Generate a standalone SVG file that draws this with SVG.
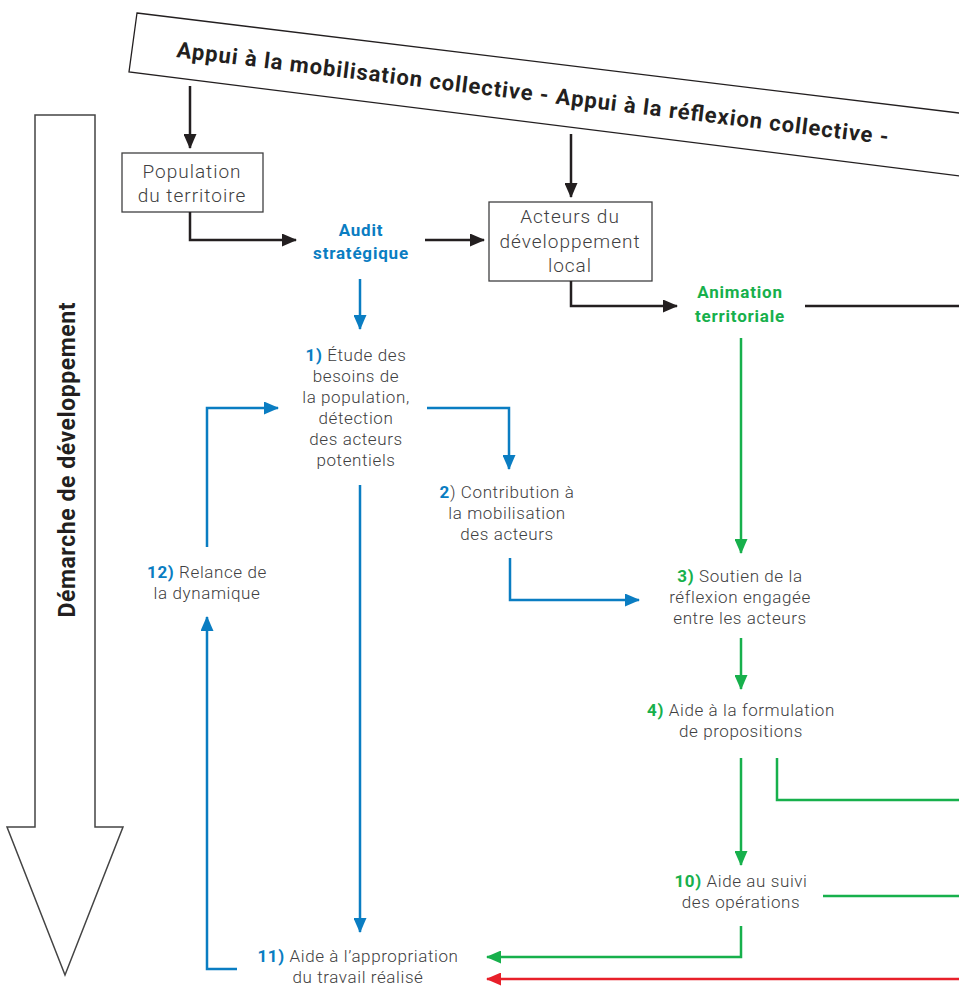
<svg xmlns="http://www.w3.org/2000/svg" width="959" height="986" viewBox="0 0 959 986">
<style>
.t{font-family:Roboto,"Liberation Sans",sans-serif;font-weight:300;fill:#404041;font-size:17px;letter-spacing:0.6px;text-anchor:middle}
.big{font-size:19px;letter-spacing:1px}
.hb{font-family:Roboto,"Liberation Sans",sans-serif;font-weight:700;font-size:17px;letter-spacing:0.8px;text-anchor:middle}
.nb{font-weight:700}
.bl{fill:#0a7dc2}
.gr{fill:#17b04c}
.box{fill:#fff;stroke:#404041;stroke-width:1.3}
.k{fill:none;stroke:#231f20;stroke-width:2.5}
.b{fill:none;stroke:#0a7dc2;stroke-width:2.5}
.g{fill:none;stroke:#17b04c;stroke-width:2.5}
.r{fill:none;stroke:#e8202a;stroke-width:2.5}
</style>
<defs>
<marker id="ak" viewBox="0 0 15 13" refX="14" refY="6.5" markerWidth="15" markerHeight="13" markerUnits="userSpaceOnUse" orient="auto"><path d="M0,0 L15,6.5 L0,13 z" fill="#231f20"/></marker>
<marker id="ab" viewBox="0 0 15 13" refX="14" refY="6.5" markerWidth="15" markerHeight="13" markerUnits="userSpaceOnUse" orient="auto"><path d="M0,0 L15,6.5 L0,13 z" fill="#0a7dc2"/></marker>
<marker id="ag" viewBox="0 0 15 13" refX="14" refY="6.5" markerWidth="15" markerHeight="13" markerUnits="userSpaceOnUse" orient="auto"><path d="M0,0 L15,6.5 L0,13 z" fill="#17b04c"/></marker>
<marker id="ar" viewBox="0 0 15 13" refX="14" refY="6.5" markerWidth="15" markerHeight="13" markerUnits="userSpaceOnUse" orient="auto"><path d="M0,0 L15,6.5 L0,13 z" fill="#e8202a"/></marker>
</defs>
<rect width="959" height="986" fill="#fff"/>

<g id="banner">
<polygon points="137,13 1000,118 1000,181 129,72" fill="#fff" stroke="#231f20" stroke-width="1.3"/>
<text x="176" y="57" transform="rotate(7 176 57)" font-family="Roboto,'Liberation Sans',sans-serif" font-weight="700" font-size="22" fill="#231f20" textLength="717" lengthAdjust="spacing">Appui à la mobilisation collective - Appui à la réflexion collective -</text>
</g>

<g id="demarche">
<path d="M35,115 H95 V827 H123 L65,975 L7,827 H35 Z" fill="#fff" stroke="#444" stroke-width="1.5"/>
<text transform="translate(75,460) rotate(-90)" font-family="Roboto,'Liberation Sans',sans-serif" font-weight="700" font-size="23" fill="#231f20" text-anchor="middle" textLength="315" lengthAdjust="spacing">Démarche de développement</text>
</g>

<g id="population">
<rect class="box" x="122" y="153" width="141" height="59"/>
<text class="t big" x="192" y="178">Population</text>
<text class="t big" x="192" y="202">du territoire</text>
</g>

<g id="audit">
<text class="hb bl" x="361" y="236">Audit</text>
<text class="hb bl" x="361" y="259">stratégique</text>
</g>

<g id="acteurs">
<rect class="box" x="489" y="202" width="163" height="79"/>
<text class="t big" x="570" y="223">Acteurs du</text>
<text class="t big" x="570" y="248">développement</text>
<text class="t big" x="570" y="272">local</text>
</g>

<g id="animation">
<text class="hb gr" x="740" y="298">Animation</text>
<text class="hb gr" x="740" y="322">territoriale</text>
</g>

<g id="step1">
<text class="t" x="356" y="361"><tspan class="nb bl">1)</tspan> Étude des</text>
<text class="t" x="356" y="382">besoins de</text>
<text class="t" x="356" y="403">la population,</text>
<text class="t" x="356" y="424">détection</text>
<text class="t" x="356" y="445">des acteurs</text>
<text class="t" x="356" y="466">potentiels</text>
</g>

<g id="step2">
<text class="t" x="507" y="498"><tspan class="nb bl">2</tspan>) Contribution à</text>
<text class="t" x="507" y="519">la mobilisation</text>
<text class="t" x="507" y="540">des acteurs</text>
</g>

<g id="step3">
<text class="t" x="740" y="582"><tspan class="nb gr">3)</tspan> Soutien de la</text>
<text class="t" x="740" y="603">réflexion engagée</text>
<text class="t" x="740" y="624">entre les acteurs</text>
</g>

<g id="step4">
<text class="t" x="741" y="716"><tspan class="nb gr">4)</tspan> Aide à la formulation</text>
<text class="t" x="741" y="737">de propositions</text>
</g>

<g id="step10">
<text class="t" x="741" y="887"><tspan class="nb gr">10)</tspan> Aide au suivi</text>
<text class="t" x="741" y="908">des opérations</text>
</g>

<g id="step11">
<text class="t" x="358" y="962"><tspan class="nb bl">11)</tspan> Aide à l’appropriation</text>
<text class="t" x="358" y="983">du travail réalisé</text>
</g>

<g id="step12">
<text class="t" x="207" y="578"><tspan class="nb bl">12)</tspan> Relance de</text>
<text class="t" x="207" y="599">la dynamique</text>
</g>

<g id="connectors">
<path class="k" d="M190,86 V148" marker-end="url(#ak)"/>
<path class="k" d="M571,134 V197" marker-end="url(#ak)"/>
<path class="k" d="M190,212 V240 H296" marker-end="url(#ak)"/>
<path class="k" d="M425,240 H484" marker-end="url(#ak)"/>
<path class="k" d="M571,281 V306 H677" marker-end="url(#ak)"/>
<path class="k" d="M805,306 H959"/>
<path class="b" d="M360,279 V329" marker-end="url(#ab)"/>
<path class="b" d="M427,408 H509 V469" marker-end="url(#ab)"/>
<path class="b" d="M360,485 V932" marker-end="url(#ab)"/>
<path class="b" d="M510,558 V600 H639" marker-end="url(#ab)"/>
<path class="b" d="M207,547 V408 H278" marker-end="url(#ab)"/>
<path class="b" d="M237,969 H207 V617" marker-end="url(#ab)"/>
<path class="g" d="M741,338 V553" marker-end="url(#ag)"/>
<path class="g" d="M741,638 V689" marker-end="url(#ag)"/>
<path class="g" d="M741,758 V865" marker-end="url(#ag)"/>
<path class="g" d="M777,758 V800 H959"/>
<path class="g" d="M823,896 H959"/>
<path class="g" d="M741,926 V957 H487" marker-end="url(#ag)"/>
<path class="r" d="M959,979 H487" marker-end="url(#ar)"/>
</g>
</svg>
